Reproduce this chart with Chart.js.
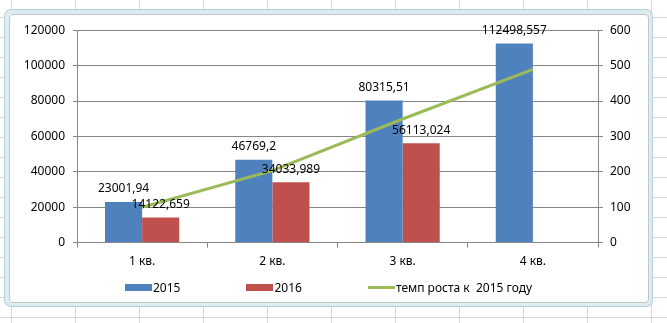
<!DOCTYPE html>
<html>
<head>
<meta charset="utf-8">
<script src="https://cdn.jsdelivr.net/npm/chart.js@4.4.1/dist/chart.umd.min.js"></script>
<style>
  html, body { margin: 0; padding: 0; }
  body {
    width: 667px;
    height: 323px;
    overflow: hidden;
    background-color: #fff;
    background-image:
      linear-gradient(to right, #d0d7e5 1px, transparent 1px),
      linear-gradient(to bottom, #d0d7e5 1px, transparent 1px);
    background-size: 64px 20px;
    background-position: 11px 17px;
    position: relative;
    font-family: "Noto Sans", sans-serif;
  }
  .frame {
    position: absolute;
    left: 5px;
    top: 10px;
    width: 639px;
    height: 288px;
    border: 4px solid #dcedf2;
    border-radius: 6px;
    box-shadow: 0 0 0 1px #b9cfd6;
    background: #fff;
  }
  .frame-inner {
    position: absolute;
    left: 0;
    top: 0;
    width: 638px;
    height: 287px;
    border: 1px solid #c5c5c5;
    border-radius: 4px;
    background: #fff;
  }
  canvas { display: block; }
  #legend {
    position: absolute;
    left: 125px;
    top: 279px;
    display: flex;
    align-items: center;
    font-size: 12px;
    color: #000;
    white-space: pre;
  }
  #legend .item { display: flex; align-items: center; margin-right: 66px; }
  #legend .swatch { width: 27px; height: 7px; margin-right: 1px; }
  #legend .swatch.line { height: 3px; }
</style>
</head>
<body>
<div class="frame">
  <div class="frame-inner">
    <canvas id="salesChart" width="638" height="287"></canvas>
  </div>
</div>
<div id="legend"></div>
<script>
const quarters = ['1 кв.', '2 кв.', '3 кв.', '4 кв.'];
const sales2015 = [23001.94, 46769.2, 80315.51, 112498.557];
const sales2016 = [14122.659, 34033.989, 56113.024, null];
const growthRate = [100, 203.3, 349.2, 489.1];
const seriesNames = ['2015', '2016', 'темп роста к  2015 году'];

const FONT = 'Noto Sans';

function formatValue(value) {
  return String(value).replace('.', ',');
}

const barLabels = {
  id: 'barLabels',
  afterDatasetsDraw(chart) {
    const ctx = chart.ctx;
    ctx.save();
    ctx.font = `12px "${FONT}"`;
    ctx.fillStyle = '#000';
    ctx.textAlign = 'center';
    ctx.textBaseline = 'middle';
    [0, 1].forEach((di) => {
      const meta = chart.getDatasetMeta(di);
      const values = chart.data.datasets[di].data;
      meta.data.forEach((bar, i) => {
        if (values[i] == null) return;
        ctx.fillText(formatValue(values[i]), bar.x, bar.y - 13);
      });
    });
    ctx.restore();
  }
};

const chart = new Chart(document.getElementById('salesChart'), {
  type: 'bar',
  data: {
    labels: quarters,
    datasets: [{
      label: seriesNames[0],
      data: sales2015,
      backgroundColor: '#4f81bd',
      yAxisID: 'y',
      order: 2,
      categoryPercentage: 0.57,
      barPercentage: 1
    }, {
      label: seriesNames[1],
      data: sales2016,
      backgroundColor: '#c0504d',
      yAxisID: 'y',
      order: 2,
      categoryPercentage: 0.57,
      barPercentage: 1
    }, {
      type: 'line',
      label: seriesNames[2],
      data: growthRate,
      borderColor: '#9bbb59',
      backgroundColor: '#9bbb59',
      borderWidth: 3,
      pointRadius: 0,
      yAxisID: 'y1',
      order: 1
    }]
  },
  options: {
    responsive: false,
    animation: false,
    layout: {
      padding: { left: 0, right: 0, top: 13, bottom: 26 }
    },
    plugins: {
      tooltip: { enabled: false },
      legend: { display: false }
    },
    scales: {
      x: {
        offset: true,
        grid: {
          offset: true,
          drawOnChartArea: false,
          drawTicks: true,
          tickLength: 5,
          color: '#868686'
        },
        border: { color: '#868686' },
        ticks: {
          color: '#000',
          font: { family: FONT, size: 12 },
          padding: 7
        }
      },
      y: {
        position: 'left',
        min: 0,
        max: 120000,
        afterFit: function(scale) { scale.width = 67; },
        ticks: {
          stepSize: 20000,
          color: '#000',
          font: { family: FONT, size: 12 },
          padding: 8,
          callback: function(value) { return String(value); }
        },
        grid: {
          color: '#868686',
          tickLength: 4
        },
        border: { color: '#868686' }
      },
      y1: {
        position: 'right',
        min: 0,
        max: 600,
        afterFit: function(scale) { scale.width = 50; },
        ticks: {
          stepSize: 100,
          color: '#000',
          font: { family: FONT, size: 12 },
          padding: 7,
          callback: function(value) { return String(value); }
        },
        grid: {
          drawOnChartArea: false,
          color: '#868686',
          tickLength: 5
        },
        border: { color: '#868686' }
      }
    }
  },
  plugins: [barLabels]
});

// html legend built from the datasets
const legendEl = document.getElementById('legend');
chart.data.datasets.forEach((ds) => {
  const item = document.createElement('div');
  item.className = 'item';
  const swatch = document.createElement('span');
  swatch.className = ds.type === 'line' ? 'swatch line' : 'swatch';
  swatch.style.background = ds.type === 'line' ? ds.borderColor : ds.backgroundColor;
  const text = document.createElement('span');
  text.textContent = ds.label;
  item.appendChild(swatch);
  item.appendChild(text);
  legendEl.appendChild(item);
});
</script>
</body>
</html>
